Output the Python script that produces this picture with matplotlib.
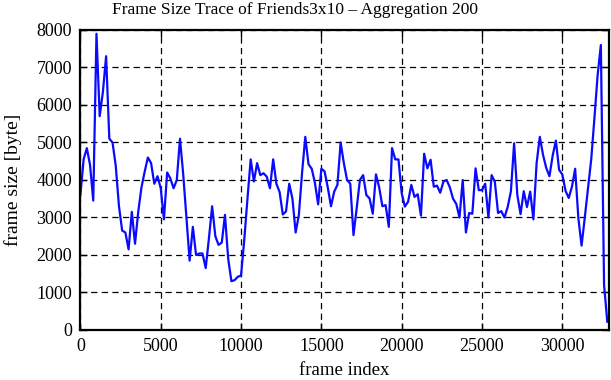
import numpy as np
import matplotlib
matplotlib.use("Agg")
import matplotlib.pyplot as plt

# aggregated frame sizes, one value every 200 frames
step = 200
frame_size = [
    3600, 4550, 4850, 4400, 3450, 7900, 5700, 6350, 7300, 5100,
    5000, 4380, 3300, 2650, 2600, 2150, 3150, 2300, 3150, 3800,
    4220, 4600, 4450, 3900, 4100, 3780, 2950, 4200, 4040, 3780,
    4000, 5100, 4150, 3000, 1850, 2750, 2000, 2040, 2040, 1650,
    2440, 3300, 2500, 2270, 2330, 3070, 1900, 1300, 1330, 1420,
    1450, 2400, 3500, 4550, 3960, 4450, 4130, 4180, 4090, 3780,
    4550, 3900, 3680, 3080, 3160, 3900, 3500, 2600, 3070, 4200,
    5150, 4420, 4300, 3920, 3350, 4300, 4230, 3800, 3300, 3690,
    3870, 5000, 4450, 4000, 3900, 2530, 3250, 4000, 4130, 3600,
    3510, 3100, 4150, 3800, 3300, 3330, 2750, 4850, 4550, 4550,
    3650, 3290, 3420, 3870, 3550, 3620, 3050, 4700, 4310, 4540,
    3820, 3850, 3660, 3960, 4000, 3800, 3500, 3360, 3000, 4000,
    2600, 3120, 3100, 4310, 3730, 3730, 3900, 3000, 4130, 3950,
    3120, 3170, 3000, 3280, 3700, 4980, 3600, 3090, 3700, 3280,
    3690, 2950, 4450, 5150, 4670, 4320, 4100, 4650, 5050, 4270,
    4150, 3710, 3520, 3820, 4300, 2980, 2250, 3000, 3780, 4550,
    5650, 6800, 7600, 1200, 220,
]
frame_index = np.arange(len(frame_size)) * step

x_ticks = [0, 5000, 10000, 15000, 20000, 25000, 30000]
y_ticks = [0, 1000, 2000, 3000, 4000, 5000, 6000, 7000, 8000]

plt.rcParams['font.family'] = ['Liberation Serif', 'DejaVu Serif']

fig = plt.figure(figsize=(6.11, 3.8), dpi=100)
ax = fig.add_axes([0.1316, 0.1316, 0.8656, 0.7895])

ax.plot(frame_index, frame_size, color='#0a0aff', linewidth=1.6)

ax.set_xlim(0, 32925)
ax.set_ylim(0, 8000)
ax.set_xticks(x_ticks)
ax.set_yticks(y_ticks)
ax.grid(True, color='black', linestyle=(0, (5, 3.5)), linewidth=0.9)
ax.set_axisbelow(True)

ax.tick_params(direction='in', top=True, right=True, length=5, width=1,
               labelsize=13)
ax.tick_params(axis='x', pad=6)
ax.tick_params(axis='y', pad=6)
for s in ax.spines.values():
    s.set_linewidth(1.6)

fig.text(0.483, 0.974, 'Frame Size Trace of Friends3x10 \u2013 Aggregation 200',
         fontsize=12.5, ha='center', va='center')
fig.text(0.563, 0.012, 'frame index', fontsize=13.5, ha='center', va='baseline')
ax.set_ylabel('frame size [byte]', fontsize=14, labelpad=10)

fig.savefig('out.png', dpi=100)
